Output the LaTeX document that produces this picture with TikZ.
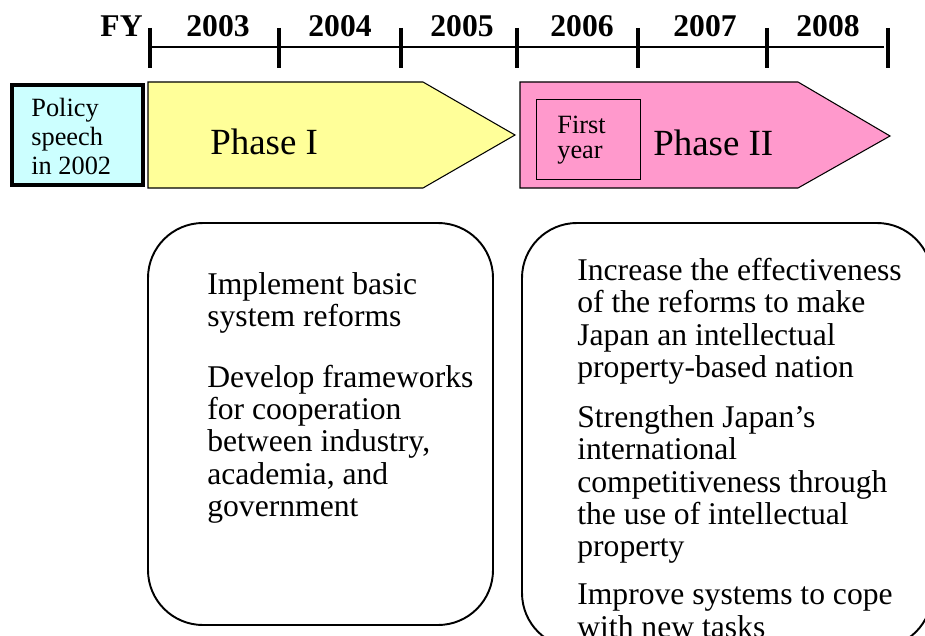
\documentclass[tikz,border=0pt]{standalone}
\usepackage{fontspec}
\setmainfont{Liberation Serif}
\definecolor{policycyan}{HTML}{CCFFFF}
\definecolor{phaseyellow}{HTML}{FFFF99}
\definecolor{phasepink}{HTML}{FF99CC}

\begin{document}
\begin{tikzpicture}[x=0.02cm,y=-0.02cm,
  yearlabel/.style={font=\fontsize{18}{20}\selectfont\bfseries,anchor=base,inner sep=0pt},
  smalltext/.style={font=\fontsize{15}{16.4}\selectfont,align=left,inner sep=0pt,anchor=north west},
  phaselabel/.style={font=\fontsize{21}{24}\selectfont,anchor=base west,inner sep=0pt},
  goaltext/.style={font=\fontsize{18}{18.4}\selectfont,align=left,inner sep=0pt,anchor=north west},
  goalbox/.style={draw,line width=1.1pt,rounded corners=1.1cm}]
\useasboundingbox (0,0) rectangle (925,635);
\clip (0,0) rectangle (925,635);

% fiscal years
\draw[line width=1.1pt] (150,47) -- (884,47);
\foreach \x in {150,279,401,517,638,767,888}
  \draw[line width=2.2pt] (\x,28) -- (\x,68);
\node[yearlabel,anchor=base east] (fy) at (143,37) {FY};
\foreach \x/\yr in {218/2003,340/2004,462/2005,582/2006,705/2007,828/2008}
  \node[yearlabel] (y\yr) at (\x,37) {\yr};

% phases
\draw[line width=2.3pt,fill=policycyan] (12,85) rectangle (143,185);
\node[smalltext] (policy) at (31,98) {Policy\\speech\\in 2002};

\draw[line width=0.6pt,fill=phaseyellow] (148,82) -- (423,82) -- (515,135) -- (423,188) -- (148,188) -- cycle;
\node[phaselabel] (phase1) at (210,154) {Phase I};

\draw[line width=0.6pt,fill=phasepink] (520,82) -- (798,82) -- (890,136) -- (798,188) -- (520,188) -- cycle;
\draw[line width=0.5pt] (536,99) rectangle (640,179);
\node[smalltext,font=\fontsize{15}{14.2}\selectfont] (firstyear) at (557,116) {First\\year};
\node[phaselabel] (phase2) at (653,155) {Phase II};

% goals
\draw[goalbox] (148,223) rectangle (493,625);
\node[goaltext] (goals1) at (207,272) {Implement basic\\system reforms\\[16pt]
  Develop frameworks\\for cooperation\\between industry,\\academia, and\\government};

\draw[goalbox] (522,223) rectangle (932,648);
\node[goaltext] (goals2) at (577,258) {Increase the effectiveness\\of the reforms to make\\Japan an intellectual\\property-based nation\\[10pt]
  Strengthen Japan’s\\international\\competitiveness through\\the use of intellectual\\property\\[9pt]
  Improve systems to cope\\with new tasks};
\end{tikzpicture}
\end{document}
